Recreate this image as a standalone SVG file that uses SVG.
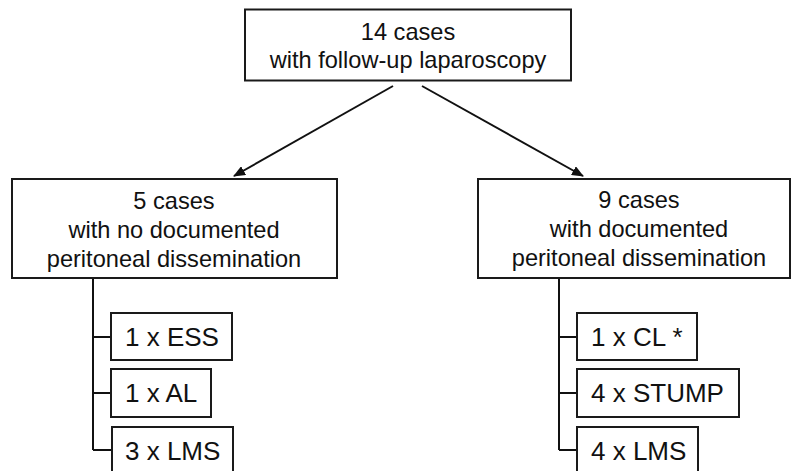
<svg xmlns="http://www.w3.org/2000/svg" width="792" height="471" viewBox="0 0 792 471">
<style>
.box{fill:#fff;stroke:#1a1a1a;stroke-width:2}
.ln{fill:none;stroke:#111;stroke-width:2}
.t{font-family:"Liberation Sans",Arial,sans-serif;font-size:23.6px;fill:#111;text-anchor:middle}
.s{font-family:"Liberation Sans",Arial,sans-serif;font-size:26px;fill:#111}
</style>
<defs>
<marker id="ah" markerWidth="12" markerHeight="10" refX="11" refY="5" orient="auto" markerUnits="userSpaceOnUse">
<path d="M0,0 L12,5 L0,10 z" fill="#111"/>
</marker>
</defs>
<rect width="792" height="471" fill="#fff"/>
<g id="connectors">
<line class="ln" x1="393" y1="86" x2="234" y2="176" marker-end="url(#ah)"/>
<line class="ln" x1="422" y1="86" x2="583" y2="176" marker-end="url(#ah)"/>
<path class="ln" d="M93,278 V450 M93,337 H111 M93,393 H111 M93,450 H112"/>
<path class="ln" d="M559,278 V450 M559,337 H577 M559,393 H577 M559,450 H577"/>
</g>
<g id="top">
<rect class="box" x="245" y="9.5" width="326" height="71"/>
<text class="t" x="408" y="40">14 cases</text>
<text class="t" x="408" y="68">with follow-up laparoscopy</text>
</g>
<g id="left">
<rect class="box" x="12" y="179" width="325" height="99"/>
<text class="t" x="174" y="209">5 cases</text>
<text class="t" x="174" y="238">with no documented</text>
<text class="t" x="174" y="267">peritoneal dissemination</text>
</g>
<g id="right">
<rect class="box" x="478" y="179" width="312" height="99"/>
<text class="t" x="639" y="208">9 cases</text>
<text class="t" x="639" y="237">with documented</text>
<text class="t" x="639" y="266">peritoneal dissemination</text>
</g>
<g id="ess">
<rect class="box" x="111" y="313" width="121" height="47"/>
<text class="s" x="125" y="346">1 x ESS</text>
</g>
<g id="al">
<rect class="box" x="111" y="369" width="100" height="48"/>
<text class="s" x="125" y="402">1 x AL</text>
</g>
<g id="lms1">
<rect class="box" x="112" y="427" width="121" height="52"/>
<text class="s" x="125" y="460">3 x LMS</text>
</g>
<g id="cl">
<rect class="box" x="577" y="313" width="120" height="47"/>
<text class="s" x="591" y="346">1 x CL *</text>
</g>
<g id="stump">
<rect class="box" x="577" y="369" width="162" height="48"/>
<text class="s" x="591" y="402">4 x STUMP</text>
</g>
<g id="lms2">
<rect class="box" x="577" y="427" width="121" height="52"/>
<text class="s" x="591" y="460">4 x LMS</text>
</g>
</svg>
